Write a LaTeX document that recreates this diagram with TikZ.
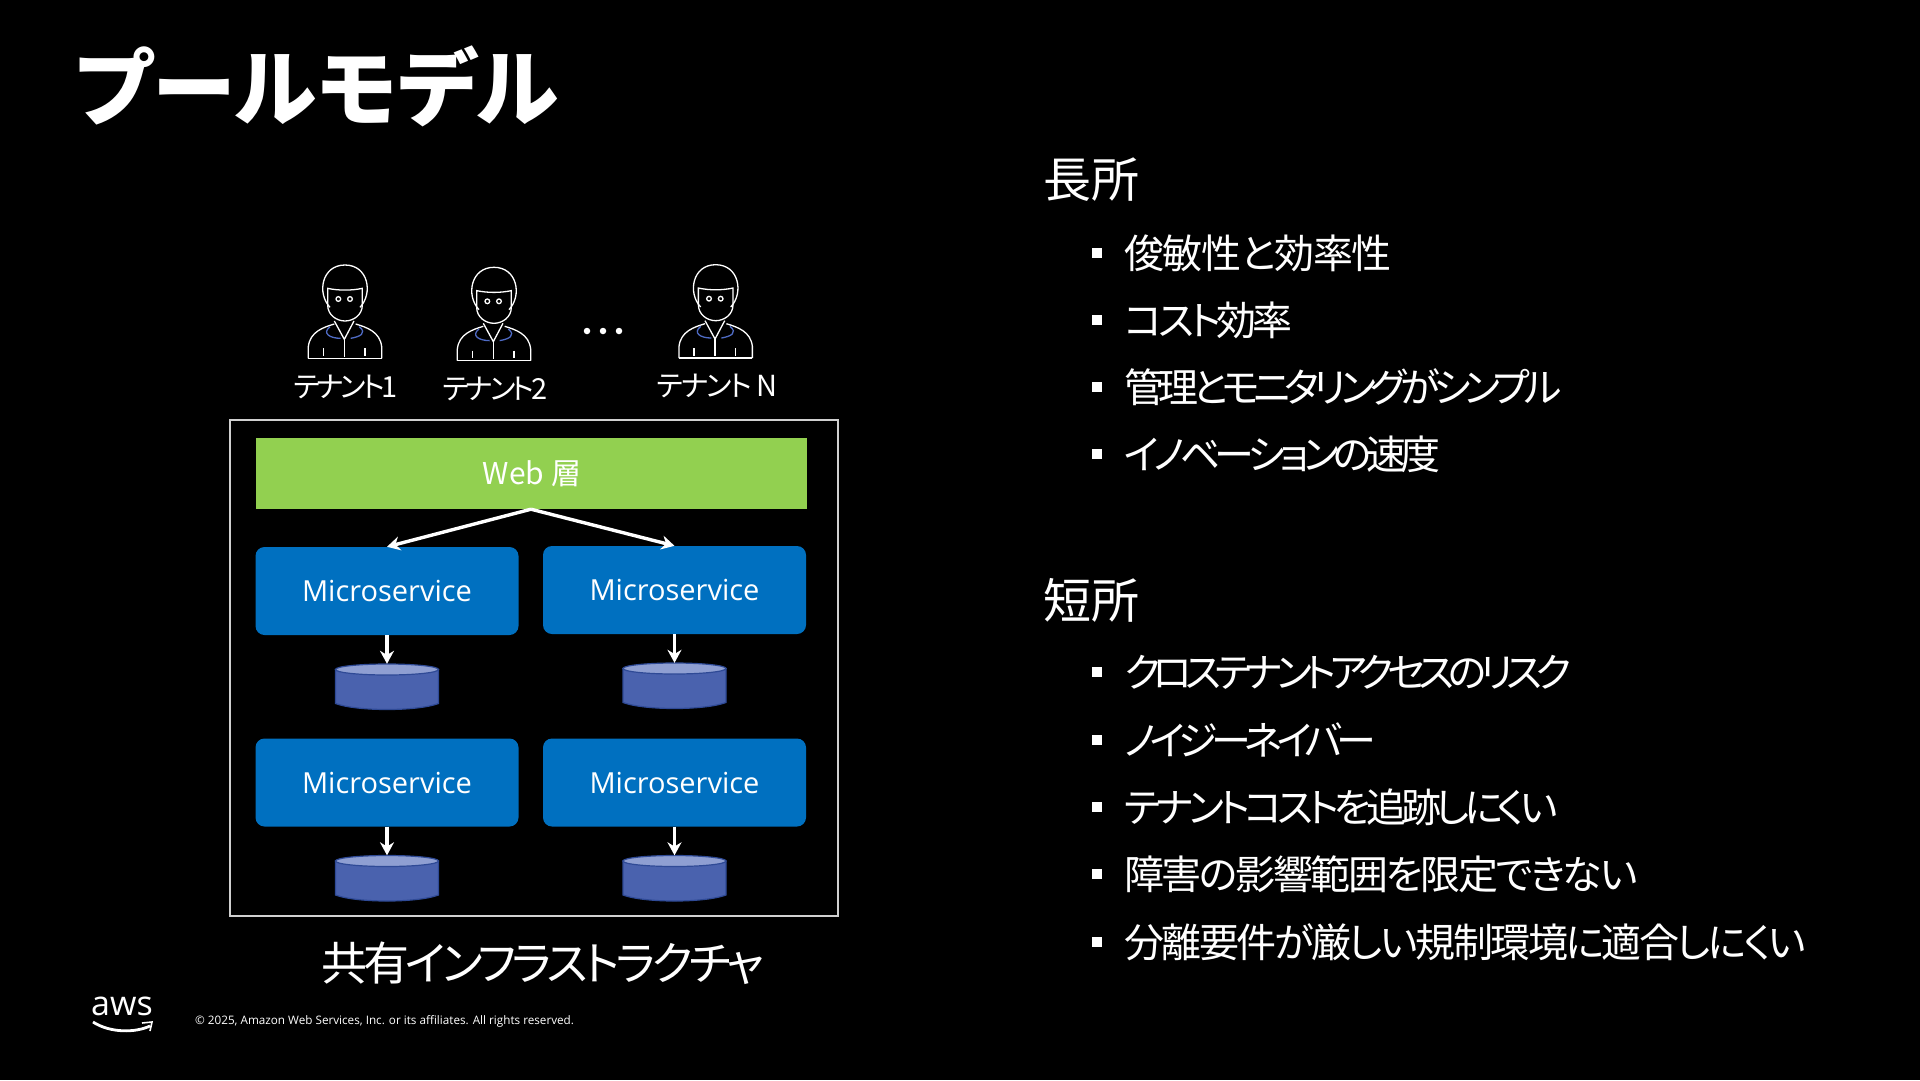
\documentclass[tikz,border=0pt]{standalone}
\usepackage{fontspec}
\usetikzlibrary{arrows.meta}
\setmainfont[RawFeature=+palt]{Noto Sans CJK JP}
\newfontfamily\latinsans{Open Sans}
\definecolor{webgreen}{HTML}{92D050}
\definecolor{msblue}{HTML}{0070C0}
\definecolor{dbbody}{HTML}{4A62AE}
\definecolor{dbtop}{HTML}{8F9FD2}
\definecolor{dbline}{HTML}{2F4A96}
\definecolor{collar}{HTML}{4F6BC4}
\definecolor{framegray}{HTML}{D0D0D0}
\newcommand{\fs}[1]{\fontsize{#1pt}{#1pt}\selectfont}
\newcommand{\tight}[1]{\addfontfeature{LetterSpace=#1}}
\tikzset{
  tier/.style={fill=webgreen,text=white,minimum width=551pt,minimum height=71pt,inner sep=0pt,font=\fs{30}},
  svc/.style={fill=msblue,text=white,rounded corners=9pt,minimum width=263pt,minimum height=88pt,inner sep=0pt,font=\latinsans\fs{29}},
  dbslot/.style={minimum width=103pt,minimum height=45pt,inner sep=0pt},
  flow/.style={white,line width=3.4pt,-{Stealth[length=13pt,width=14pt]}},
  txt/.style={text=white,inner sep=0pt},
  head/.style={txt,anchor=west,font=\fs{48}},
  item/.style={txt,anchor=west,font=\fs{40}},
  tenant/.style={txt,font=\fs{29}},
  bulletmark/.style={fill=white,minimum size=10pt,inner sep=0pt},
  person/.pic={
    \begin{scope}[x=0.3333pt,y=-0.3333pt,white,line width=1.3pt]
      \draw (150,172) .. controls (110,130) and (125,45) .. (195,45) .. controls (265,45) and (280,130) .. (240,172);
      \draw (143,115) .. controls (175,122) and (215,122) .. (247,115) -- (247,165) .. controls (247,195) and (220,213) .. (195,213) .. controls (170,213) and (143,195) .. (143,165) -- cycle;
      \draw (175,147) circle[radius=7];
      \draw (210,147) circle[radius=7];
      \draw (163,213) -- (193,268) -- (222,213);
      \draw (85,325) -- (85,290) .. controls (90,245) and (130,232) .. (163,222);
      \draw (305,325) -- (305,290) .. controls (300,245) and (260,232) .. (227,222);
      \draw (85,325) -- (305,325);
      \draw (193,268) -- (193,320) (130,295) -- (130,318) (255,295) -- (255,318);
      \draw[collar] (150,230) .. controls (125,250) and (150,265) .. (182,265);
      \draw[collar] (238,230) .. controls (262,250) and (240,260) .. (212,265);
    \end{scope}
  }
}
\newcommand{\dbcyl}[3]{%
  \node[dbslot] (#1) at (#2,#3) {};
  \path[fill=dbbody,draw=dbline,line width=1.2pt] (#2-51.5,#3-17) -- (#2-51.5,#3+17) .. controls (#2-30,#3+25) and (#2+30,#3+25) .. (#2+51.5,#3+17) -- (#2+51.5,#3-17) -- cycle;
  \path[fill=dbtop,draw=dbline,line width=1.2pt] (#2,#3-17) ellipse[x radius=51.5,y radius=5.5];
}
\begin{document}
\begin{tikzpicture}[x=1pt,y=-1pt]
\useasboundingbox (0,0) rectangle (1920,1080);
\fill[black] (0,0) rectangle (1920,1080);
% title
\node[txt,anchor=west,font=\bfseries\fs{84}] (title) at (75,86) {\tight{0.5}プールモデル};
% tenants
\pic at (280,250) {person};
\pic at (429,252.3) {person};
\pic at (650.7,249.7) {person};
\node[tenant] (t1) at (345.5,387) {\tight{-12}テナント1};
\node[tenant] (t2) at (495,389) {\tight{-12}テナント2};
\node[tenant] (tn) at (717,386) {\tight{-8}テナント N};
\foreach \dx/\nm in {587/da,603/db,619/dc}{\node[circle,fill=white,minimum size=6.5pt,inner sep=0pt] (\nm) at (\dx,331) {};}
% frame
\node[draw=framegray,line width=1.8pt,minimum width=608pt,minimum height=496pt,inner sep=0pt] (frame) at (534,668) {};
\node[tier] (web) at (531,473.5) {\hspace{2pt}Web 層};
\node[svc] (ms1) at (387,591) {\raisebox{-1pt}{Microservice}};
\node[svc] (ms2) at (674.5,590) {\raisebox{-1pt}{Microservice}};
\node[svc] (ms3) at (387,782.5) {\raisebox{-1pt}{Microservice}};
\node[svc] (ms4) at (674.5,782.5) {\raisebox{-1pt}{Microservice}};
\dbcyl{db1}{387}{686.5}
\dbcyl{db2}{674.5}{685.5}
\dbcyl{db3}{387}{878}
\dbcyl{db4}{674.5}{878}
\draw[flow] (web.south) -- (ms1.north);
\draw[flow] (web.south) -- (ms2.north);
\draw[flow] (ms1) -- (db1);
\draw[flow] (ms2) -- (db2);
\draw[flow] (ms3) -- (db3);
\draw[flow] (ms4) -- (db4);
\node[txt,font=\fs{46}] (infra) at (543,963) {\tight{-8.5}共有インフラストラクチャ};
% right column
\node[head] (pros) at (1043,180) {長所};
\node[head] (cons) at (1043,600) {短所};
\foreach \yy/\nm/\sp/\tx in {253/a/-3.2/俊敏性と効率性,320/b/-10/コスト効率,387/c/-14.8/管理とモニタリングがシンプル,454/d/-14/イノベーションの速度,672/e/-16.6/クロステナントアクセスのリスク,740/f/-15.5/ノイジーネイバー,807/g/-12.7/テナントコストを追跡しにくい,874/h/-6/障害の影響範囲を限定できない,942/i/-6.1/分離要件が厳しい規制環境に適合しにくい}{
  \node[bulletmark] (bul\nm) at (1096.5,\yy) {};
  \node[item] (it\nm) at (1124,\yy) {\tight{\sp}\tx};
}
% footer
\node[txt,font=\latinsans\fs{34}] (aws) at (122,1006) {aws};
\node[txt,anchor=west,font=\latinsans\fs{11.7}] (copy) at (195,1021) {© 2025, Amazon Web Services, Inc. or its affiliates. All rights reserved.};
\draw[white,line width=2.8pt] (93,1022) .. controls (110,1033) and (135,1033) .. (150,1026);
\draw[white,line width=1.6pt] (142,1023) -- (152,1022) -- (150,1031);
\end{tikzpicture}
\end{document}
